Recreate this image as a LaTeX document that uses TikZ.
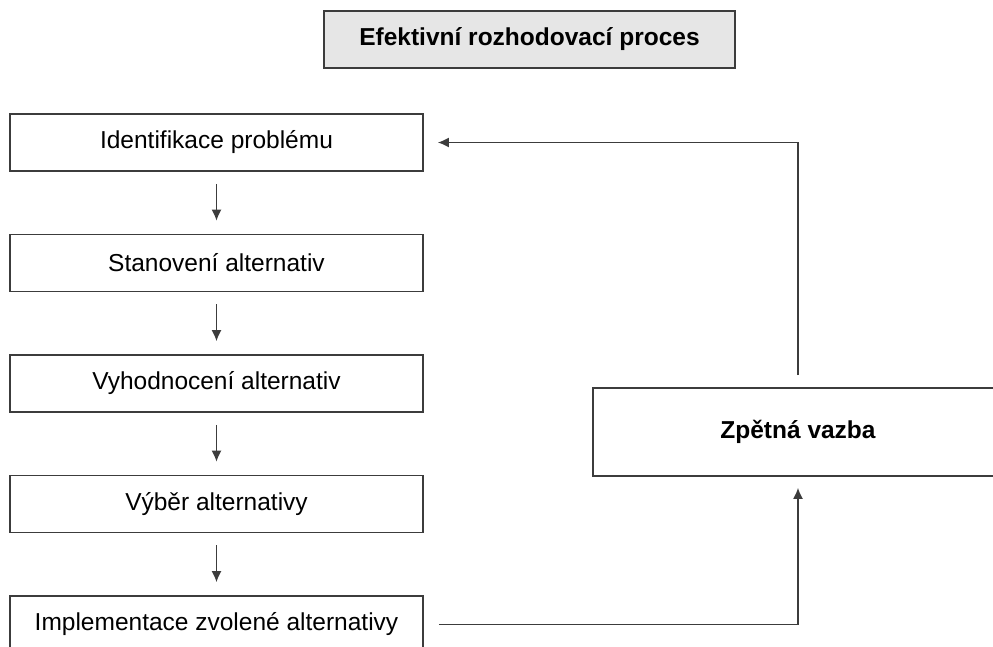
\documentclass[tikz,border=0pt]{standalone}
\usepackage{fontspec}
\setmainfont{Liberation Sans}
\usetikzlibrary{arrows.meta}
\definecolor{boxline}{HTML}{3C3C3C}
\definecolor{titlefill}{HTML}{E6E6E6}
\begin{document}
\begin{tikzpicture}[x=1pt, y=-1pt,
  stepbox/.style={draw=boxline, line width=1.6pt, minimum width=413pt, minimum height=57pt, inner sep=0pt, font=\fontsize{24.5}{29}\selectfont},
  titlebox/.style={stepbox, fill=titlefill, minimum width=411pt, font=\fontsize{24.5}{29}\selectfont\bfseries},
  arr/.style={draw=boxline, line width=1.6pt, -{Latex[length=11pt,width=10pt]}}]

\useasboundingbox (0,0) rectangle (993,646);
\clip (0,0) rectangle (993,646);

\node[titlebox] (title) at (529.5,39.5) {Efektivní rozhodovací proces};

\node[stepbox] (ident) at (216.5,142.5) {Identifikace problému};
\node[stepbox] (stanov) at (216.5,263) {Stanovení alternativ};
\node[stepbox] (vyhod) at (216.5,383.5) {Vyhodnocení alternativ};
\node[stepbox] (vyber) at (216.5,504) {Výběr alternativy};
\node[stepbox] (impl) at (216.5,624.5) {Implementace zvolené alternativy};

\node[stepbox, minimum width=410pt, minimum height=88pt, font=\fontsize{24.5}{29}\selectfont\bfseries] (vazba) at (798,432) {Zpětná vazba};

\draw[arr, shorten <=12pt, shorten >=13pt] (ident) -- (stanov);
\draw[arr, shorten <=12pt, shorten >=13pt] (stanov) -- (vyhod);
\draw[arr, shorten <=12pt, shorten >=13pt] (vyhod) -- (vyber);
\draw[arr, shorten <=12pt, shorten >=13pt] (vyber) -- (impl);

\draw[arr, shorten <=15pt, shorten >=11pt] (impl.east) -| (vazba.south);
\draw[arr, shorten <=12pt, shorten >=14pt] (vazba.north) |- (ident.east);
\end{tikzpicture}
\end{document}
